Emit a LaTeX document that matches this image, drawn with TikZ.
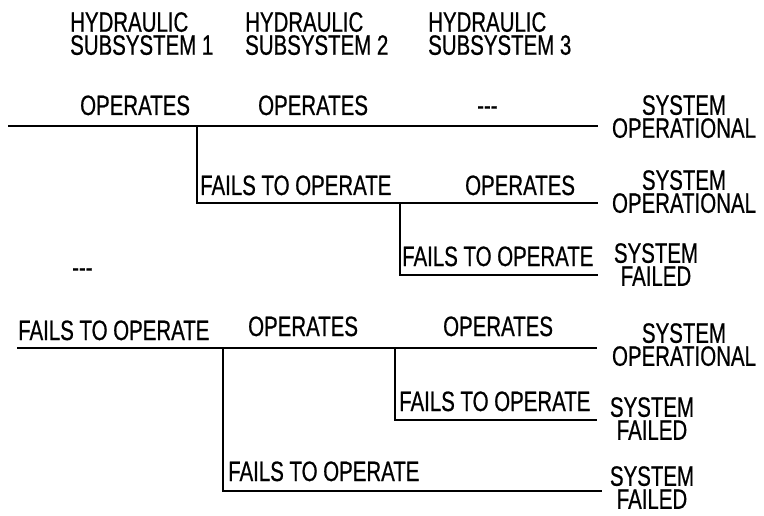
\documentclass[tikz,border=0pt]{standalone}
\usepackage{fontspec}
\setmainfont{Liberation Sans}[FakeStretch=0.73,FakeBold=0.6]
\usetikzlibrary{positioning}
\newcommand{\treefont}{\fontsize{28}{23}\selectfont}
\tikzset{
  branch/.style={draw=black,line width=1.6pt},
  headlbl/.style={inner sep=0pt,anchor=north west,align=left,font=\treefont},
  pathlbl/.style={inner sep=0pt,anchor=base west,font=\treefont},
  outcome/.style={inner sep=0pt,anchor=north,align=center,font=\treefont}
}

\begin{document}
\begin{tikzpicture}[x=1pt,y=-1pt]
  \useasboundingbox (0,0) rectangle (764,516);

  % column heads
  \node[headlbl] (sub1) at (70,12) {HYDRAULIC\\SUBSYSTEM 1};
  \node[headlbl] (sub2) at (245,12) {HYDRAULIC\\SUBSYSTEM 2};
  \node[headlbl] (sub3) at (428,12) {HYDRAULIC\\SUBSYSTEM 3};

  % upper tree
  \coordinate (t0) at (8,126);
  \coordinate (tOK) at (598,126);
  \coordinate (tSplit1) at (197,126);
  \coordinate (t2OK) at (598,203);
  \coordinate (tSplit2) at (400,203);
  \coordinate (t3Fail) at (598,275);

  \draw[branch] (t0) -- (tOK);
  \draw[branch] (tSplit1) |- (t2OK);
  \draw[branch] (tSplit2) |- (t3Fail);

  \node[pathlbl] (tOp1) at (80,115) {OPERATES};
  \node[pathlbl] (tOp2) at (258,115) {OPERATES};
  \node[pathlbl] (tDash3) at (477,115) {-{}-{}-};
  \node[pathlbl] (tFail1) at (200,195) {FAILS TO OPERATE};
  \node[pathlbl] (tOp3) at (465,195) {OPERATES};
  \node[pathlbl] (tFail2) at (402,266) {FAILS TO OPERATE};

  \node[outcome] (res1) at (684,95) {SYSTEM\\OPERATIONAL};
  \node[outcome] (res2) at (684,170) {SYSTEM\\OPERATIONAL};
  \node[outcome] (res3) at (656,243) {SYSTEM\\FAILED};

  \node[pathlbl] (bDash2) at (72,277) {-{}-{}-};

  % lower tree
  \coordinate (b0) at (17,348);
  \coordinate (bOK) at (597,348);
  \coordinate (bSplit1) at (223,348);
  \coordinate (bSplit2) at (395,348);
  \coordinate (bFail2) at (597,420);
  \coordinate (bFail1) at (602,491);

  \draw[branch] (b0) -- (bOK);
  \draw[branch] (bSplit2) |- (bFail2);
  \draw[branch] (bSplit1) |- (bFail1);

  \node[pathlbl] (bFail) at (18,340) {FAILS TO OPERATE};
  \node[pathlbl] (bOp2) at (248,336) {OPERATES};
  \node[pathlbl] (bOp3) at (443,336) {OPERATES};
  \node[pathlbl] (bFail3) at (399,411) {FAILS TO OPERATE};
  \node[pathlbl] (bFail2lbl) at (228,481) {FAILS TO OPERATE};

  \node[outcome] (res4) at (684,323) {SYSTEM\\OPERATIONAL};
  \node[outcome] (res5) at (652,397) {SYSTEM\\FAILED};
  \node[outcome] (res6) at (652,466) {SYSTEM\\FAILED};
\end{tikzpicture}
\end{document}
